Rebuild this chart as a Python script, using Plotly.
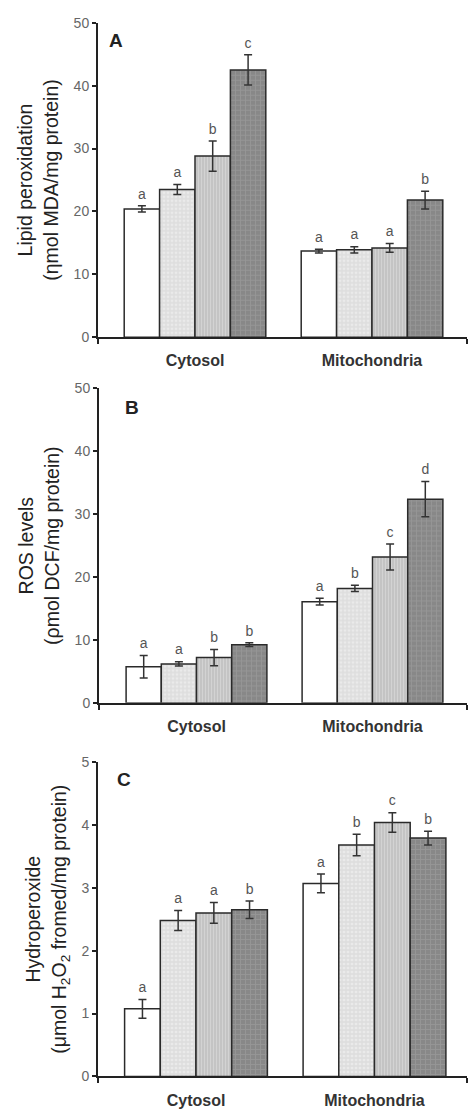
import plotly.graph_objects as go

W, H = 468, 1114

categories = ["Cytosol", "Mitochondria"]

# Panel A: lipid peroxidation
lipid_vals = [[20.4, 13.7], [23.5, 13.9], [28.8, 14.2], [42.5, 21.8]]
lipid_errs = [[0.5, 0.3], [0.8, 0.5], [2.4, 0.7], [2.4, 1.4]]
lipid_letters = [["a", "a"], ["a", "a"], ["b", "a"], ["c", "b"]]

# Panel B: ROS levels
ros_vals = [[5.75, 16.1], [6.2, 18.2], [7.2, 23.2], [9.25, 32.4]]
ros_errs = [[1.8, 0.55], [0.35, 0.5], [1.3, 2.05], [0.3, 2.8]]
ros_letters = [["a", "a"], ["a", "b"], ["b", "c"], ["b", "d"]]

# Panel C: hydroperoxide
hp_vals = [[1.075, 3.07], [2.48, 3.68], [2.6, 4.04], [2.65, 3.79]]
hp_errs = [[0.15, 0.15], [0.16, 0.17], [0.165, 0.155], [0.14, 0.11]]
hp_letters = [["a", "a"], ["a", "b"], ["a", "c"], ["b", "b"]]

panels = [
    dict(vals=lipid_vals, errs=lipid_errs, letters=lipid_letters, ymax=50, dtick=10,
         title="Lipid peroxidation<br>(\u03b7mol MDA/mg protein)", tag="A",
         px=(15, 334, 98, 467), centers=(195, 372), tagpos=(107, 33)),
    dict(vals=ros_vals, errs=ros_errs, letters=ros_letters, ymax=50, dtick=10,
         title="ROS levels<br>(\u03c1mol DCF/mg protein)", tag="B",
         px=(386, 705, 99, 467), centers=(196.5, 372.5), tagpos=(123, 405)),
    dict(vals=hp_vals, errs=hp_errs, letters=hp_letters, ymax=5, dtick=1,
         title="Hydroperoxide<br>(\u03bcmol H<sub>2</sub>O<sub>2</sub> fromed/mg protein)", tag="C",
         px=(765, 1084, 98, 467), centers=(196, 374.5), tagpos=(115, 783)),
]

styles = [
    dict(bg="#ffffff", fg="#ffffff", shape="", size=4, sol=0.3),
    dict(bg="#dedede", fg="#f6f6f6", shape=".", size=4, sol=0.35),
    dict(bg="#c4c4c4", fg="#e2e2e2", shape="|", size=3, sol=0.35),
    dict(bg="#888888", fg="#a6a6a6", shape="+", size=5, sol=0.3),
]

BARGAP = 0.2
nser = 4
bw = (1 - BARGAP) / nser
FONT = "Liberation Sans, Arial"

fig = go.Figure()
layout = dict(width=W, height=H, margin=dict(l=0, r=0, t=0, b=0),
              paper_bgcolor="white", plot_bgcolor="white",
              barmode="group", bargap=BARGAP, bargroupgap=0, showlegend=False,
              font=dict(family=FONT, color="#333"))
annotations = []

for p_i, p in enumerate(panels):
    n = p_i + 1
    xa = "x" if n == 1 else f"x{n}"
    ya = "y" if n == 1 else f"y{n}"
    ytop, ybot, xl, xr = p["px"]
    c0, c1 = p["centers"]
    sp = c1 - c0
    xr0 = (xl - c0) / sp
    xr1 = (xr - c0) / sp
    xpos = list(range(len(categories)))
    for s in range(nser):
        st = styles[s]
        fig.add_trace(go.Bar(
            x=xpos, y=p["vals"][s], xaxis=xa, yaxis=ya,
            marker=dict(color=st["bg"], line=dict(color="#2a2a2a", width=1.5),
                        pattern=dict(shape=st["shape"], bgcolor=st["bg"], fgcolor=st["fg"],
                                     size=st["size"], solidity=st["sol"])),
            error_y=dict(type="data", array=p["errs"][s], color="#333", thickness=1.5, width=4),
            hoverinfo="skip",
        ))
    for s in range(nser):
        tx = [xi + (s - (nser - 1) / 2) * bw for xi in xpos]
        ty = [v + e + p["ymax"] * 0.012 for v, e in zip(p["vals"][s], p["errs"][s])]
        fig.add_trace(go.Scatter(
            x=tx, y=ty, xaxis=xa, yaxis=ya, mode="text", text=p["letters"][s],
            textposition="top center", textfont=dict(family=FONT, size=14, color="#555"),
            cliponaxis=False, hoverinfo="skip"))
    xkey = "xaxis" if n == 1 else f"xaxis{n}"
    ykey = "yaxis" if n == 1 else f"yaxis{n}"
    layout[xkey] = dict(
        domain=[xl / W, xr / W], range=[xr0, xr1], anchor=ya,
        tickmode="array", tickvals=xpos, ticktext=categories, ticks="",
        tickfont=dict(family=FONT, size=16, color="#333", weight="bold"),
        ticklabelstandoff=8,
        showline=True, linecolor="#222", linewidth=2, showgrid=False, zeroline=False,
        minor=dict(tickmode="array", tickvals=[xr0, xr1], ticks="outside", ticklen=5,
                   tickwidth=2, tickcolor="#222", showgrid=False),
    )
    layout[ykey] = dict(
        domain=[1 - ybot / H, 1 - ytop / H], range=[0, p["ymax"]], anchor=xa,
        dtick=p["dtick"], tick0=0, ticks="outside", ticklen=4, tickwidth=1.5, tickcolor="#222",
        tickfont=dict(family=FONT, size=14, color="#666"),
        showline=True, linecolor="#222", linewidth=2, showgrid=False, zeroline=False,
        title=dict(text=p["title"], font=dict(family=FONT, size=19.5, color="#222"),
                   standoff=10),
    )
    tx, ty = p["tagpos"]
    annotations.append(dict(text=f"<b>{p['tag']}</b>", x=tx / W, y=1 - ty / H, xref="paper", yref="paper",
                            xanchor="left", yanchor="middle", showarrow=False,
                            font=dict(family=FONT, size=19, color="#222")))

layout["annotations"] = annotations
fig.update_layout(**layout)
fig.write_html("out.html")
